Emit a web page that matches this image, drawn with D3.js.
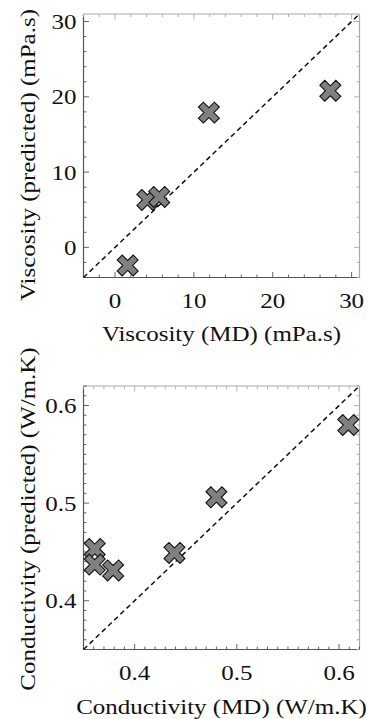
<!DOCTYPE html>
<html>
<head>
<meta charset="utf-8">
<script src="https://cdn.jsdelivr.net/npm/d3@7"></script>
<style>
  body { margin: 0; background: #fff; }
  text { font-family: "Liberation Serif", "Times New Roman", serif; fill: #111; }
</style>
</head>
<body>
<svg id="chart"></svg>
<script>
// viscosity panel
var viscMD = [1.6, 4.1, 5.6, 11.9, 27.3];
var viscPred = [-2.4, 6.3, 6.7, 17.9, 20.8];
var viscTicks = [0, 10, 20, 30];

// conductivity panel
var condMD = [0.361, 0.361, 0.379, 0.439, 0.480, 0.609];
var condPred = [0.453, 0.437, 0.431, 0.449, 0.506, 0.580];
var condTicks = [0.4, 0.5, 0.6];

var width = 368, height = 719;
var svg = d3.select("#chart").attr("width", width).attr("height", height);

var squash = 0.86;   // glyphs in the reference are a bit flat
var fs = 25;

// X shaped marker
var arm = 11.3, w = 3.5;
var plus = [[w, w], [arm, w], [arm, -w], [w, -w], [w, -arm], [-w, -arm], [-w, -w], [-arm, -w], [-arm, w], [-w, w], [-w, arm], [w, arm]];
var c45 = Math.SQRT1_2;
var crossPath = "M" + plus.map(function (p) {
  return [(p[0] - p[1]) * c45, (p[0] + p[1]) * c45].join(",");
}).join("L") + "Z";

function hText(g, x, y, str, anchor) {
  g.append("g")
    .attr("transform", "translate(" + x + "," + y + ") scale(1," + squash + ")")
    .append("text")
    .attr("text-anchor", anchor)
    .style("font-size", fs + "px")
    .text(str);
}

function vText(g, x, y, str) {
  g.append("g")
    .attr("transform", "translate(" + x + "," + y + ") scale(" + squash + ",1) rotate(-90)")
    .append("text")
    .attr("text-anchor", "middle")
    .style("font-size", fs + "px")
    .text(str);
}

function drawPanel(opts) {
  var x = d3.scaleLinear().domain(opts.domain).range([opts.left, opts.right]);
  var y = d3.scaleLinear().domain(opts.domain).range([opts.bottom, opts.top]);
  var g = svg.append("g");

  var minor = d3.range(opts.minorStart, opts.domain[1] + 1e-9, opts.minorStep)
    .filter(function (v) { return v >= opts.domain[0] - 1e-9; });
  var isMajor = function (v) {
    return opts.ticks.some(function (t) { return Math.abs(t - v) < 1e-9; });
  };

  // frame, lighter on top/right like the reference
  g.append("line").attr("x1", opts.left).attr("x2", opts.right).attr("y1", opts.top).attr("y2", opts.top)
    .attr("stroke", "#aaa").attr("stroke-width", 1.2);
  g.append("line").attr("x1", opts.right).attr("x2", opts.right).attr("y1", opts.top).attr("y2", opts.bottom)
    .attr("stroke", "#aaa").attr("stroke-width", 1.2);
  g.append("line").attr("x1", opts.left).attr("x2", opts.right).attr("y1", opts.bottom).attr("y2", opts.bottom)
    .attr("stroke", "#555").attr("stroke-width", 1.2);
  g.append("line").attr("x1", opts.left).attr("x2", opts.left).attr("y1", opts.top).attr("y2", opts.bottom)
    .attr("stroke", "#555").attr("stroke-width", 1.2);

  // inward ticks on all four sides
  minor.forEach(function (v) {
    var len = isMajor(v) ? 5.5 : 3;
    var px = x(v), py = y(v);
    g.append("line").attr("x1", px).attr("x2", px).attr("y1", opts.bottom).attr("y2", opts.bottom - len)
      .attr("stroke", "#555").attr("stroke-width", 0.9);
    g.append("line").attr("x1", px).attr("x2", px).attr("y1", opts.top).attr("y2", opts.top + len)
      .attr("stroke", "#aaa").attr("stroke-width", 0.9);
    g.append("line").attr("x1", opts.left).attr("x2", opts.left + len).attr("y1", py).attr("y2", py)
      .attr("stroke", "#555").attr("stroke-width", 0.9);
    g.append("line").attr("x1", opts.right).attr("x2", opts.right - len).attr("y1", py).attr("y2", py)
      .attr("stroke", "#aaa").attr("stroke-width", 0.9);
  });

  // tick labels
  opts.ticks.forEach(function (t) {
    hText(g, x(t), opts.bottom + 30, opts.fmt(t), "middle");
    hText(g, opts.left - 7, y(t) + 7.5, opts.fmt(t), "end");
  });

  // y = x reference
  g.append("line")
    .attr("x1", x(opts.domain[0])).attr("y1", y(opts.domain[0]))
    .attr("x2", x(opts.domain[1])).attr("y2", y(opts.domain[1]))
    .attr("stroke", "#111").attr("stroke-width", 1.5)
    .attr("stroke-dasharray", "5,3.5");

  g.append("g").selectAll("path")
    .data(opts.xs.map(function (v, i) { return [v, opts.ys[i]]; }))
    .enter()
    .append("path")
    .attr("d", crossPath)
    .attr("transform", function (d) { return "translate(" + x(d[0]) + "," + y(d[1]) + ")"; })
    .attr("fill", "#808080")
    .attr("stroke", "#111")
    .attr("stroke-width", 1.1);

  hText(g, (opts.left + opts.right) / 2, opts.xTitleY, opts.xTitle, "middle");
  vText(g, 35, opts.yTitleY, opts.yTitle);
}

drawPanel({
  domain: [-4, 31], ticks: viscTicks, minorStart: -4, minorStep: 2,
  left: 83.5, right: 359.5, top: 14, bottom: 277.5,
  xs: viscMD, ys: viscPred, fmt: d3.format("d"),
  xTitle: "Viscosity (MD) (mPa.s)", xTitleY: 341,
  yTitle: "Viscosity (predicted) (mPa.s)", yTitleY: 155
});

drawPanel({
  domain: [0.35, 0.62], ticks: condTicks, minorStart: 0.35, minorStep: 0.01,
  left: 83.5, right: 359.5, top: 386, bottom: 649.5,
  xs: condMD, ys: condPred, fmt: d3.format(".1f"),
  xTitle: "Conductivity (MD) (W/m.K)", xTitleY: 714,
  yTitle: "Conductivity (predicted) (W/m.K)", yTitleY: 519
});
</script>
</body>
</html>
